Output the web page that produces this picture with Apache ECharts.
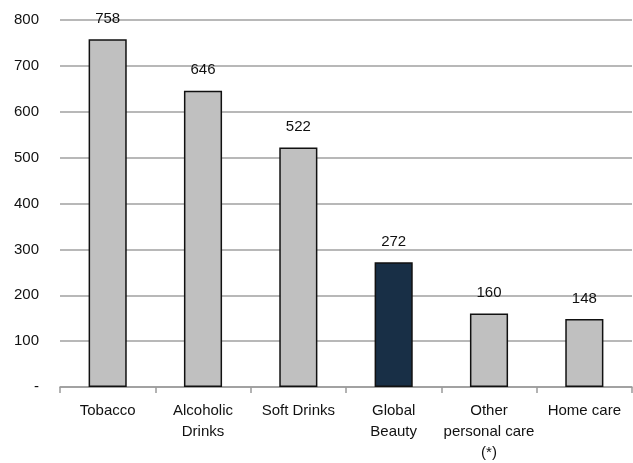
<!DOCTYPE html>
<html>
<head>
<meta charset="utf-8">
<script src="https://cdn.jsdelivr.net/npm/echarts@6/dist/echarts.min.js"></script>
<style>
  html, body { margin: 0; padding: 0; background: #fff; }
  #chart { width: 633px; height: 463px; }
</style>
</head>
<body>
<div id="chart"></div>
<script>
const categories = ['Tobacco', 'Alcoholic\nDrinks', 'Soft Drinks', 'Global\nBeauty', 'Other\npersonal care\n(*)', 'Home care'];
const values = [758, 646, 522, 272, 160, 148];
const highlightIndex = 3;

const chart = echarts.init(document.getElementById('chart'));
const font = '"Liberation Sans", Arial, sans-serif';

chart.setOption({
  animation: false,
  grid: { left: 60, right: 1, top: 20, bottom: 75, containLabel: false },
  xAxis: {
    type: 'category',
    data: categories,
    axisLine: { lineStyle: { color: '#9a9a9a', width: 1.5 } },
    axisTick: { show: true, length: 6, lineStyle: { color: '#9a9a9a', width: 1.5 } },
    axisLabel: { interval: 0, color: '#111', fontFamily: font, fontSize: 15, margin: 13, lineHeight: 21 }
  },
  yAxis: {
    type: 'value',
    min: 0,
    max: 800,
    interval: 100,
    axisLine: { show: false },
    axisTick: { show: false },
    splitLine: { lineStyle: { color: '#a0a0a0', width: 1.5 } },
    axisLabel: {
      color: '#111', fontFamily: font, fontSize: 15, margin: 21,
      formatter: v => (v === 0 ? '-' : String(v))
    }
  },
  series: [{
    type: 'bar',
    barWidth: '40%',
    data: values.map((v, i) => ({
      value: v,
      itemStyle: { color: i === highlightIndex ? '#182f46' : '#c0c0c0' }
    })),
    itemStyle: { borderColor: '#111', borderWidth: 1.5 },
    label: {
      show: true, position: 'top', distance: 13,
      color: '#111', fontFamily: font, fontSize: 15
    }
  }]
});
</script>
</body>
</html>
